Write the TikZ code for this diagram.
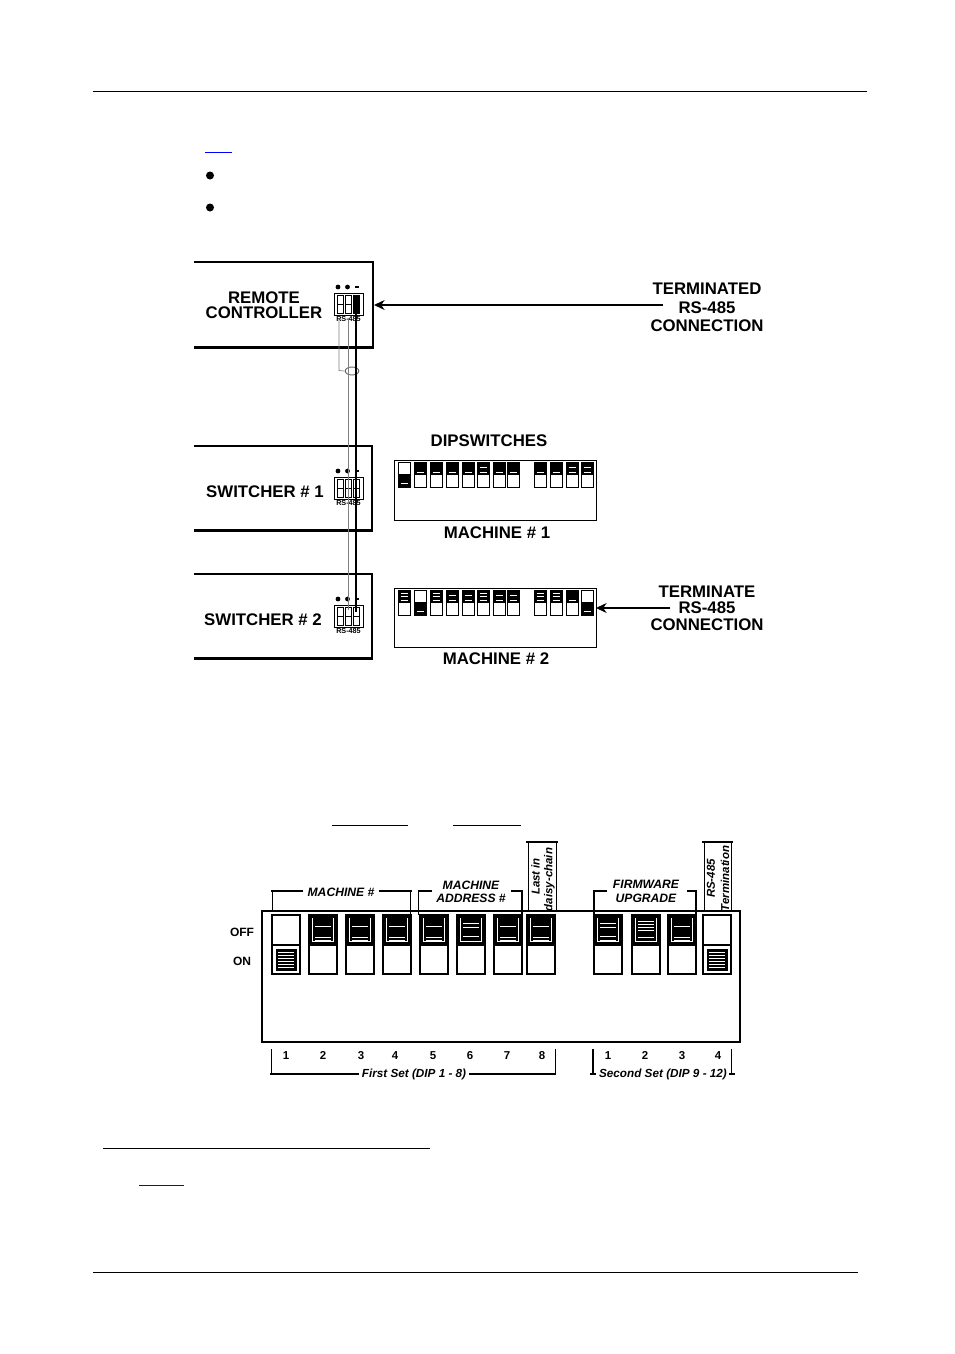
\documentclass[tikz,border=0pt]{standalone}
\usepackage{fontspec}
\setmainfont{Liberation Sans}
\usetikzlibrary{positioning,arrows.meta}

\tikzset{
    lbl/.style={inner sep=0pt,font=\fontsize{12.6}{13}\selectfont\bfseries,align=center},
    sublbl/.style={inner sep=0pt,font=\fontsize{9.1}{9.6}\selectfont\bfseries\itshape,align=center},
    sidelbl/.style={inner sep=0pt,rotate=90,font=\fontsize{8.6}{9}\selectfont\bfseries\itshape},
    numlbl/.style={inner sep=0pt,font=\fontsize{8.6}{9}\selectfont\bfseries},
    setlbl/.style={inner sep=0pt,font=\fontsize{8.8}{9}\selectfont\itshape\bfseries},
    heavy/.style={line width=2.2pt},
    medium/.style={line width=1.3pt},
    thin line/.style={line width=0.55pt},
    wiregray/.style={line width=0.7pt,draw=black!50},
    ptr/.style={-{Stealth[length=8pt,width=7.5pt]},line width=1pt}
}

% big switch: left x, list of white lines
\newcommand{\bigdipoff}[2]{
    \fill (#1,915) rectangle ++(28,30);
    \draw[white,line width=0.5pt] (#1+3.5,918) -- (#1+3.5,941) -- (#1+24.5,941) -- (#1+24.5,918);
    \foreach \ly in {#2} {\draw[white,line width=0.6pt] (#1+6,\ly) -- (#1+22,\ly);}
    \draw[line width=2pt] (#1,915) rectangle ++(28,59);
    \draw[line width=2pt] (#1,945) -- ++(28,0);
}
\newcommand{\bigdipon}[1]{
    \fill (#1+3.5,949) rectangle ++(21,22);
    \foreach \ly in {952,955,...,968} {\draw[white,line width=0.6pt] (#1+6,\ly) -- (#1+22,\ly);}
    \draw[line width=2pt] (#1,915) rectangle ++(28,59);
    \draw[line width=2pt] (#1,945) -- ++(28,0);
}
% panel switch: left x, top y, 1 = on, number of white lines
\newcommand{\paneldip}[4]{
    \ifnum#3=1
        \fill (#1,#2+12.5) rectangle ++(12,12.5);
        \foreach \nl in {1,...,#4} {\draw[white,line width=0.45pt] (#1+2.5,#2+12.5+\nl*9/#4) -- ++(7,0);}
    \else
        \fill (#1,#2) rectangle ++(12,12.5);
        \foreach \nl in {1,...,#4} {\draw[white,line width=0.45pt] (#1+2.5,#2+\nl*10/#4) -- ++(7,0);}
    \fi
    \draw[line width=0.7pt] (#1,#2) rectangle ++(12,25);
    \draw[line width=0.7pt] (#1,#2+12.5) -- ++(12,0);
}
% small block beside a box: top y
\newcommand{\smalldip}[1]{
    \draw[line width=0.75pt] (334,#1) rectangle (363,#1+22);
    \foreach \sx in {337,345,353}
        {\draw[line width=0.7pt] (\sx,#1+2.5) rectangle ++(6,17.5) (\sx,#1+11) -- ++(6,0);}
    \fill (338,#1-6) circle (2.4);
    \fill (347.5,#1-6) circle (2.4);
    \fill (355,#1-7) rectangle ++(4,2.4);
    \node[inner sep=0pt,font=\fontsize{5.4}{6}\selectfont\bfseries] at (348.5,#1+26) {RS-485};
}

\begin{document}
\begin{tikzpicture}[x=0.75pt,y=-0.75pt]
    \useasboundingbox (0,0) rectangle (954,1354);

    % page furniture
    \draw[line width=0.6pt] (93,91.5) -- (867,91.5);
    \draw[line width=0.6pt] (93,1272.5) -- (858,1272.5);
    \draw[line width=0.6pt] (103,1148) -- (430,1148);
    \draw[blue,line width=0.7pt] (205,152) -- (232,152);
    \draw[blue,line width=0.7pt] (139,1185) -- (184,1185);
    \draw[line width=0.7pt] (332,825) -- (408,825);
    \draw[line width=0.7pt] (453,825) -- (521,825);
    \fill (210,175.5) circle (4);
    \fill (210,207.5) circle (4);

    % three boxes, open on the left
    \draw[heavy] (194,262) -- (373,262) -- (373,348) (194,347.5) -- (374,347.5);
    \draw[heavy] (194,446) -- (372,446) -- (372,530.5) -- (194,530.5);
    \draw[heavy] (194,574) -- (372,574) -- (372,658.5) -- (194,658.5);

    \node[lbl] (remote) at (264,298) {REMOTE};
    \node[lbl] (controller) at (264,313) {CONTROLLER};
    \node[lbl] (switcherOne) at (265,492) {SWITCHER \# 1};
    \node[lbl] (switcherTwo) at (263,620) {SWITCHER \# 2};

    \smalldip{293}
    \smalldip{477}
    \smalldip{605}
    \fill (353,296) rectangle ++(6,18);

    % cabling
    \coordinate (wireA) at (339,318);
    \coordinate (wireAend) at (339,370.5);
    \coordinate (wireB) at (348.5,318);
    \coordinate (wireBend) at (348.5,610);
    \coordinate (wireC) at (356,306);
    \coordinate (wireCend) at (356,612);
    \node[draw=black!60,line width=0.7pt,fill=white,shape=circle,xscale=1.7,inner sep=0pt,minimum size=6pt] (loop) at (352,371) {};
    \draw[wiregray,line width=0.5pt] (wireA) -- (wireAend) -- (loop.west);
    \draw[line width=2.2pt] (wireC) -- (wireCend);
    \draw[wiregray] (wireB) -- (wireBend);

    % right hand labels
    \node[lbl] (terminated) at (707,289) {TERMINATED};
    \node[lbl] (rsOne) at (707,308) {RS-485};
    \node[lbl] (connOne) at (707,326) {CONNECTION};
    \node[lbl] (terminate) at (707,592) {TERMINATE};
    \node[lbl] (rsTwo) at (707,608) {RS-485};
    \node[lbl] (connTwo) at (707,625) {CONNECTION};
    \coordinate (rcEdge) at (374,305);
    \coordinate (panelEdge) at (596,608);
    \draw[ptr] (rsOne.west) ++(-15,-3) -- (rcEdge);
    \draw[ptr,line width=0.8pt] (rsTwo.west) ++(-8,0) -- (panelEdge);

    % the two machine panels
    \node[lbl] (dips) at (489,441) {DIPSWITCHES};
    \node[lbl] (machOne) at (497,533) {MACHINE \# 1};
    \node[lbl] (machTwo) at (496,659) {MACHINE \# 2};
    \draw[line width=0.65pt] (394,460) rectangle (596,520);
    \draw[line width=0.65pt] (394,588) rectangle (596,647);

    \paneldip{398}{462}{1}{1}
    \foreach \px/\pn in {414/1,430/1,446/1,462/1,477/2,493/1,507/1,534/1,550/1,566/2,581/2}
        {\paneldip{\px}{462}{0}{\pn}}
    \foreach \px/\pn in {398/3,430/3,446/2,462/2,477/3,493/2,507/2,534/3,550/3,566/1}
        {\paneldip{\px}{590}{0}{\pn}}
    \paneldip{414}{590}{1}{1}
    \paneldip{581}{590}{1}{1}

    % big switch block
    \draw[line width=2pt] (262,911) rectangle (740,1042);
    \bigdipon{272}
    \foreach \bx in {309,346,383,420,494,527,668}
        {\bigdipoff{\bx}{926,937,940}}
    \bigdipoff{457}{923,927,936}
    \bigdipoff{594}{923,927,936,940}
    \bigdipoff{632}{921,924,927,930,937}
    \bigdipon{703}

    \node[lbl,font=\fontsize{9}{10}\selectfont\bfseries] (off) at (242,932) {OFF};
    \node[lbl,font=\fontsize{9}{10}\selectfont\bfseries] (on) at (242,961) {ON};

    % brackets over the block
    \node[sublbl] (machineNo) at (341,892) {MACHINE \#};
    \node[sublbl] (address) at (471,891.5) {MACHINE\\[0.4pt]ADDRESS \#};
    \node[sublbl] (firmware) at (646,891.5) {FIRMWARE\\[0.4pt]UPGRADE};
    \node[sidelbl] (lastIn) at (535.5,876.5) {Last in};
    \node[sidelbl] (daisy) at (549.5,879.5) {daisy-chain};
    \node[sidelbl] (rsTerm) at (711,878.5) {RS-485};
    \node[sidelbl] (termination) at (725,878.5) {Termination};

    \draw[medium] (machineNo.west) ++(-4,-1) -- (271,891);
    \draw[medium] (machineNo.east) ++(4,-1) -- (412,891);
    \draw[thin line] (272,891) -- (272,911) (410,891) -- (410,915);
    \draw[medium] (432,891) -- (418.5,891) -- (418.5,915);
    \draw[medium] (511,891) -- (522,891) -- (522,915);
    \draw[medium] (607,891) -- (594,891) -- (594,915);
    \draw[medium] (687,891) -- (696,891) -- (696,915);
    \draw[medium] (526,842) -- (558,842);
    \draw[thin line] (528,842) -- (528,911) (556,842) -- (556,911);
    \draw[medium] (702,842) -- (733,842);
    \draw[thin line] (704,842) -- (704,911) (731,842) -- (731,911);

    % numbering and sets
    \foreach \nx/\nt in {286/1,323/2,361/3,395/4,433/5,470/6,507/7,542/8,608/1,645/2,682/3,718/4}
        {\node[numlbl] (num\nx) at (\nx,1055.5) {\nt};}
    \node[setlbl] (firstSet) at (414,1074.5) {First Set (DIP 1 - 8)};
    \node[setlbl] (secondSet) at (663,1074.5) {Second Set (DIP 9 - 12)};
    \draw[thin line] (271,1049) -- (271,1074) (555,1049) -- (555,1074);
    \draw[line width=0.8pt] (593,1049) -- (593,1074);
    \draw[thin line] (731,1049) -- (731,1074);
    \draw[line width=1pt] (270,1074) -- ([xshift=-2]firstSet.west |- 0,1074);
    \draw[line width=1pt] ([xshift=2]firstSet.east |- 0,1074) -- (556,1074);
    \draw[line width=0.8pt] (590,1074) -- (596,1074);
    \draw[line width=0.8pt] (729,1074) -- (735,1074);
\end{tikzpicture}
\end{document}
